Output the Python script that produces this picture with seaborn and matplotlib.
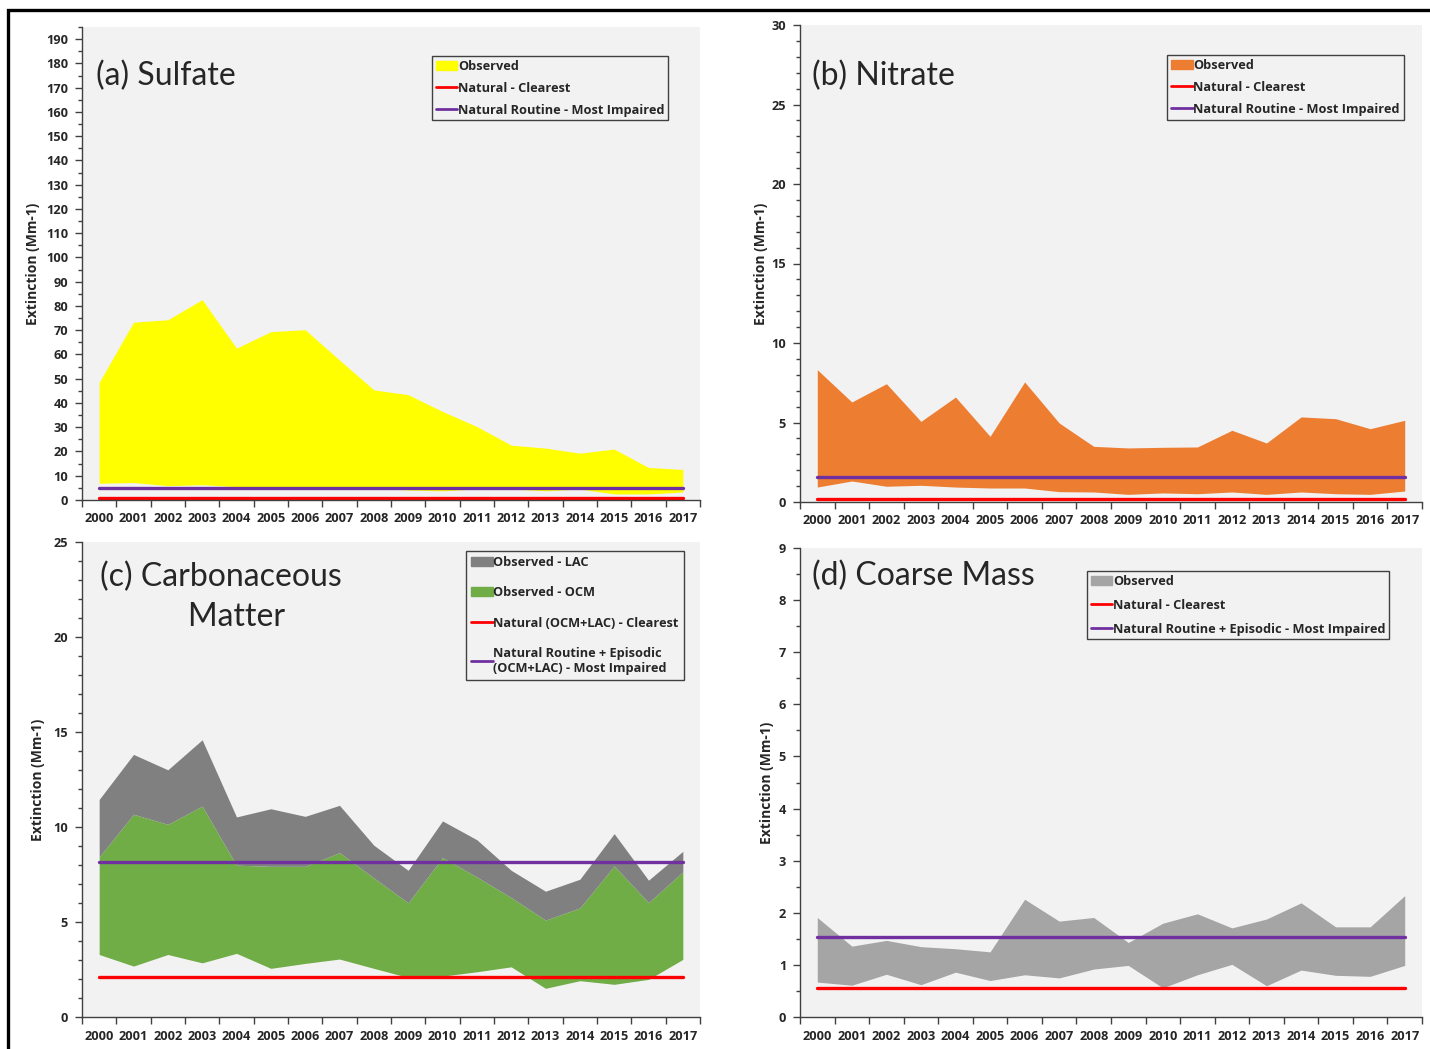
import numpy as np
import matplotlib
matplotlib.use("Agg")
import matplotlib.pyplot as plt
from matplotlib.patches import Patch, Rectangle
from matplotlib.lines import Line2D
from matplotlib.ticker import MultipleLocator, FixedLocator, NullFormatter
import seaborn as sns

# ------------------------------------------------------------------
# data
# ------------------------------------------------------------------
years = [str(y) for y in range(2000, 2018)]

# (a) sulfate
so4_low = [6.9, 7.2, 5.9, 6.3, 5.5, 5.3, 5.3, 5.2, 4.9, 4.1, 3.8, 4.5, 4.5, 3.8, 4.5, 2.5, 2.5, 3.3]
so4_high = [48.5, 73.3, 74.3, 82.6, 62.6, 69.4, 70.2, 57.7, 45.4, 43.4, 36.5, 30.3, 22.6, 21.4, 19.3, 21.0, 13.4, 12.6]
so4_clear = 0.7
so4_impaired = 4.9

# (b) nitrate
no3_low = [0.94, 1.32, 0.99, 1.05, 0.94, 0.88, 0.88, 0.65, 0.63, 0.48, 0.57, 0.52, 0.63, 0.48, 0.63, 0.52, 0.48, 0.69]
no3_high = [8.32, 6.29, 7.44, 5.07, 6.60, 4.13, 7.55, 4.97, 3.50, 3.40, 3.44, 3.46, 4.51, 3.71, 5.35, 5.24, 4.61, 5.14]
no3_clear = 0.21
no3_impaired = 1.59

# (c) carbonaceous matter
ocm_low = [3.29, 2.68, 3.29, 2.85, 3.35, 2.56, 2.82, 3.05, 2.56, 2.08, 2.15, 2.38, 2.64, 1.51, 1.91, 1.72, 1.98, 3.03]
ocm_high = [8.42, 10.67, 10.14, 11.10, 7.99, 7.93, 7.93, 8.65, 7.32, 6.01, 8.39, 7.37, 6.29, 5.10, 5.74, 7.95, 6.02, 7.64]
lac_high = [11.45, 13.82, 13.01, 14.59, 10.53, 10.96, 10.56, 11.14, 9.04, 7.72, 10.32, 9.33, 7.72, 6.62, 7.25, 9.65, 7.20, 8.72]
cm_clear = 2.08
cm_impaired = 8.14

# (d) coarse mass
cmass_low = [0.67, 0.61, 0.82, 0.62, 0.86, 0.70, 0.81, 0.75, 0.92, 0.99, 0.56, 0.81, 1.01, 0.60, 0.90, 0.80, 0.78, 0.99]
cmass_high = [1.91, 1.36, 1.47, 1.35, 1.31, 1.25, 2.26, 1.84, 1.91, 1.43, 1.80, 1.98, 1.71, 1.88, 2.19, 1.73, 1.73, 2.33]
cmass_clear = 0.56
cmass_impaired = 1.54

# ------------------------------------------------------------------
RED = "#FF0000"
PURPLE = "#7030A0"
BG = "#F2F2F2"
BOLD = ["Open Sans", "DejaVu Sans"]

sns.set_theme(style="white")
plt.rcParams["font.family"] = ["Lato", "DejaVu Sans"]

W, H = 1430, 1049
fig = plt.figure(figsize=(W / 100, H / 100), dpi=100)

x = np.arange(len(years)) + 0.5


def make_ax(left, right, top, bottom):
    return fig.add_axes([left / W, 1 - bottom / H, (right - left) / W, (bottom - top) / H])


def style_ax(ax, ymax, ytop, major, minor, ylab_x):
    ax.set_facecolor(BG)
    ax.set_xlim(0, len(years))
    ax.set_ylim(0, ytop)
    for s in ["top", "right"]:
        ax.spines[s].set_visible(False)
    for s in ["left", "bottom"]:
        ax.spines[s].set_color("#404040")
        ax.spines[s].set_linewidth(1.0)
    ax.xaxis.set_major_locator(FixedLocator(np.arange(len(years) + 1)))
    ax.xaxis.set_major_formatter(NullFormatter())
    ax.xaxis.set_minor_locator(FixedLocator(x))
    ax.set_xticklabels(years, minor=True, fontsize=9.2, fontweight="bold", family=BOLD)
    ax.tick_params(axis="x", which="major", direction="out", length=5, width=1, color="#404040", bottom=True)
    ax.tick_params(axis="x", which="minor", length=0, pad=9, bottom=True)
    yt = np.arange(0, ymax + major / 2, major)
    ax.yaxis.set_major_locator(FixedLocator(yt))
    ax.set_yticklabels([f"{v:g}" for v in yt], fontsize=9.2, fontweight="bold", family=BOLD)
    ax.yaxis.set_minor_locator(MultipleLocator(minor))
    ax.tick_params(axis="y", which="major", direction="out", length=5, width=1, color="#404040", left=True,
                   pad=5)
    ax.tick_params(axis="y", which="minor", direction="out", length=3, width=1, color="#404040", left=True)
    ax.set_ylabel("Extinction (Mm-1)", fontsize=10, fontweight="bold", family=BOLD)
    ax.yaxis.set_label_coords(ylab_x, 0.5)
    ax.set_xlabel("")


def ref_lines(ax, clear, impaired):
    sns.lineplot(x=x, y=np.full(len(x), clear), ax=ax, color=RED, linewidth=2.4)
    sns.lineplot(x=x, y=np.full(len(x), impaired), ax=ax, color=PURPLE, linewidth=2.4)


def add_legend(ax, handles, labels, anchor, spacing, pad=0.3):
    leg = ax.legend(handles, labels, loc="upper left", bbox_to_anchor=anchor, borderaxespad=0,
                    fancybox=False, frameon=True, edgecolor="#404040", facecolor=BG, framealpha=1,
                    prop={"size": 9.2, "weight": "bold", "family": BOLD}, handlelength=1.7,
                    handletextpad=0.05, handleheight=0.7, labelspacing=spacing, borderpad=pad)
    leg.get_frame().set_linewidth(1.0)


def line_h(c):
    return Line2D([0], [0], color=c, linewidth=2)


# (a) Sulfate
ax = make_ax(82, 700, 27, 500)
ax.fill_between(x, so4_low, so4_high, color="#FFFF00", linewidth=0)
ref_lines(ax, so4_clear, so4_impaired)
style_ax(ax, 190, 195, 10, 5, -0.068)
ax.text(0.022, 0.896, "(a) Sulfate", transform=ax.transAxes, fontsize=23, va="center", ha="left")
add_legend(ax, [Patch(color="#FFFF00"), line_h(RED), line_h(PURPLE)],
           ["Observed", "Natural - Clearest", "Natural Routine - Most Impaired"], (0.566, 0.939), 0.7)

# (b) Nitrate
ax = make_ax(800, 1422, 25, 502)
ax.fill_between(x, no3_low, no3_high, color="#ED7D31", linewidth=0)
ref_lines(ax, no3_clear, no3_impaired)
style_ax(ax, 30, 30, 5, 1, -0.052)
ax.text(0.02, 0.893, "(b) Nitrate", transform=ax.transAxes, fontsize=23, va="center", ha="left")
add_legend(ax, [Patch(color="#ED7D31"), line_h(RED), line_h(PURPLE)],
           ["Observed", "Natural - Clearest", "Natural Routine - Most Impaired"], (0.590, 0.937), 0.7)

# (c) Carbonaceous Matter
ax = make_ax(82, 700, 542, 1017)
ax.fill_between(x, ocm_low, ocm_high, color="#70AD47", linewidth=0)
ax.fill_between(x, ocm_high, lac_high, color="#808080", linewidth=0)
ref_lines(ax, cm_clear, cm_impaired)
style_ax(ax, 25, 25, 5, 1, -0.060)
ax.text(0.224, 0.884, "(c) Carbonaceous\n    Matter", transform=ax.transAxes, fontsize=23, va="center",
        ha="center", multialignment="center", linespacing=1.4)
add_legend(ax, [Patch(color="#808080"), Patch(color="#70AD47"), line_h(RED), line_h(PURPLE)],
           ["Observed - LAC", "Observed - OCM", "Natural (OCM+LAC) - Clearest",
            "Natural Routine + Episodic\n(OCM+LAC) - Most Impaired"], (0.621, 0.981), 1.35, 0.4)

# (d) Coarse Mass
ax = make_ax(800, 1422, 548, 1017)
ax.fill_between(x, cmass_low, cmass_high, color="#A5A5A5", linewidth=0)
ref_lines(ax, cmass_clear, cmass_impaired)
style_ax(ax, 9, 9, 1, 0.5, -0.042)
ax.text(0.02, 0.94, "(d) Coarse Mass", transform=ax.transAxes, fontsize=23, va="center", ha="left")
add_legend(ax, [Patch(color="#A5A5A5"), line_h(RED), line_h(PURPLE)],
           ["Observed", "Natural - Clearest", "Natural Routine + Episodic - Most Impaired"],
           (0.461, 0.951), 0.85)

# outer frame (only top and left edges fall inside the image)
fig.add_artist(Rectangle((8 / W, -0.05), 1.2, (H - 10) / H + 0.05, transform=fig.transFigure,
                         fill=False, linewidth=2.4, edgecolor="black"))

fig.savefig("out.png", dpi=100, facecolor="white")
